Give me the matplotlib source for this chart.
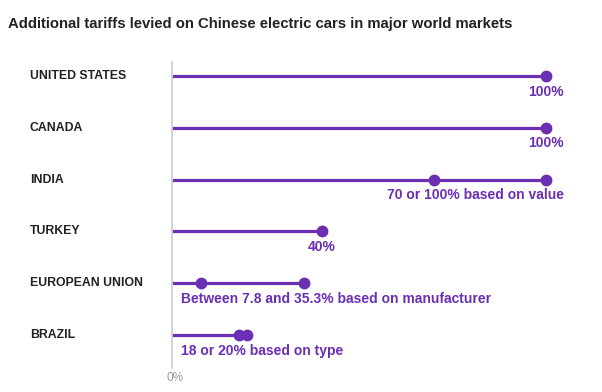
import matplotlib.pyplot as plt

# data
countries = ['UNITED STATES', 'CANADA', 'INDIA', 'TURKEY', 'EUROPEAN UNION', 'BRAZIL']
low = [100, 100, 70, 40, 7.8, 18]
high = [100, 100, 100, 40, 35.3, 20]
labels = ['100%', '100%', '70 or 100% based on value', '40%',
          'Between 7.8 and 35.3% based on manufacturer', '18 or 20% based on type']

plt.rcParams['font.family'] = ['Liberation Sans', 'DejaVu Sans']

purple = '#6a2fb3'

fig = plt.figure(figsize=(6.02, 3.92), dpi=100)
# x: 0% at 172px, 100% at 546px
ax = fig.add_axes([172 / 602, (392 - 368) / 392, 374 / 602, 306 / 392])
ax.set_xlim(0, 100)
ax.set_ylim(5.637, -0.27)

for i in range(len(countries)):
    ax.plot([0, high[i]], [i, i], color=purple, lw=2.3, solid_capstyle='butt', clip_on=False)
    pts = [low[i]] if low[i] == high[i] else [low[i], high[i]]
    ax.plot(pts, [i] * len(pts), 'o', color=purple, ms=7.5, clip_on=False)
    ax.text(-142 / 3.74, i, countries[i], ha='left', va='center',
            fontsize=8.8, fontweight='bold', color='#222222')

# value labels
lab_kw = dict(va='center', fontsize=10, fontweight='bold', color=purple)
ax.text(100, 0.3, labels[0], ha='center', **lab_kw)
ax.text(100, 1.3, labels[1], ha='center', **lab_kw)
ax.text(104.9, 2.3, labels[2], ha='right', **lab_kw)
ax.text(40, 3.3, labels[3], ha='center', **lab_kw)
ax.text(2.4, 4.3, labels[4], ha='left', **lab_kw)
ax.text(2.4, 5.3, labels[5], ha='left', **lab_kw)

for s in ['top', 'right', 'bottom']:
    ax.spines[s].set_visible(False)
ax.spines['left'].set_color('#cccccc')
ax.spines['left'].set_linewidth(1.2)
ax.set_xticks([])
ax.set_yticks([])
ax.text(0.8, 5.83, '0%', ha='center', va='center', fontsize=8.5, color='#999999')

fig.text(8 / 602, 1 - 24 / 392, 'Additional tariffs levied on Chinese electric cars in major world markets',
         ha='left', va='center', fontsize=10.7, fontweight='bold', color='#222222')

fig.savefig('out.png', dpi=100)
